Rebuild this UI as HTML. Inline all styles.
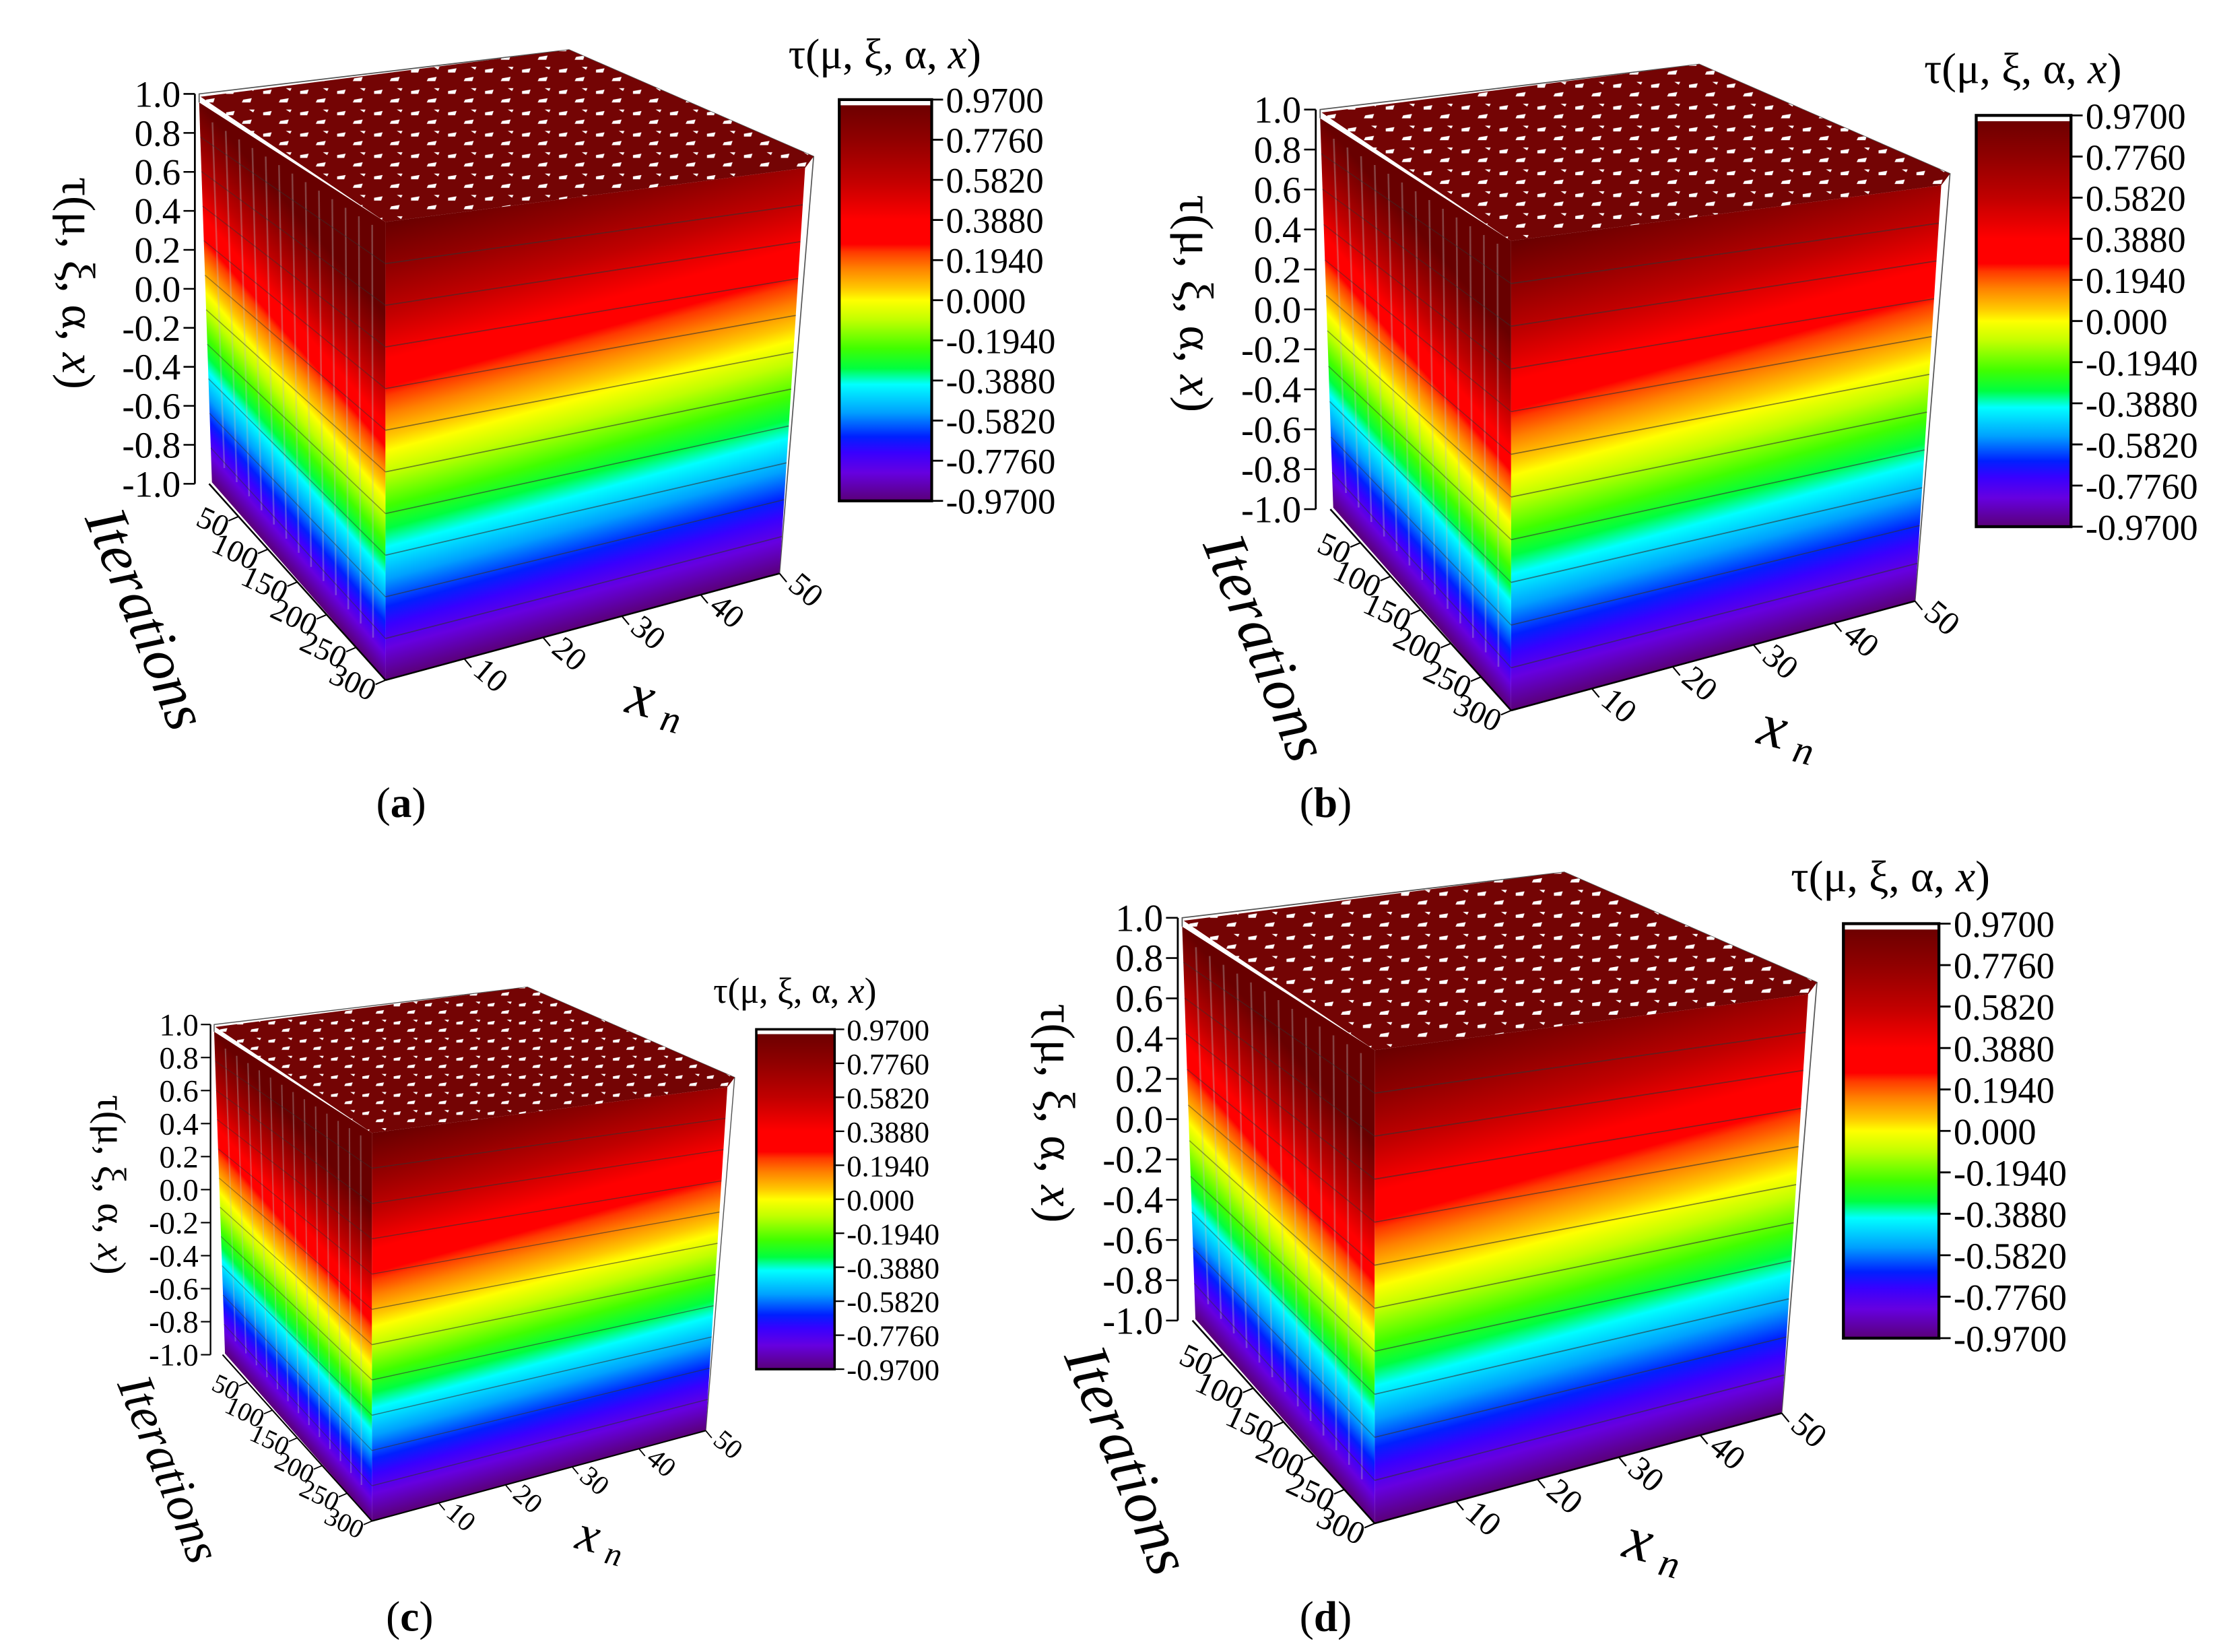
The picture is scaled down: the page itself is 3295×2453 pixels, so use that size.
<!DOCTYPE html>
<html><head><meta charset="utf-8"><style>
html,body{margin:0;padding:0;background:#fff}
svg{display:block}
text{font-family:"Liberation Serif",serif;fill:#000}
</style></head><body>
<svg id="fig" width="3295" height="2453" viewBox="0 0 1560 1161" preserveAspectRatio="none" xmlns="http://www.w3.org/2000/svg">
<defs>
<linearGradient id="cmap" x1="0" y1="0" x2="0" y2="1">
<stop offset="0" stop-color="#680000"/><stop offset="0.1" stop-color="#900000"/><stop offset="0.2" stop-color="#c00000"/>
<stop offset="0.3" stop-color="#ff0000"/><stop offset="0.36" stop-color="#ff0000"/><stop offset="0.38" stop-color="#ff3a00"/>
<stop offset="0.42" stop-color="#ff8000"/><stop offset="0.47" stop-color="#ffc800"/><stop offset="0.5" stop-color="#ffff00"/>
<stop offset="0.55" stop-color="#c0ff00"/><stop offset="0.62" stop-color="#40ff00"/><stop offset="0.67" stop-color="#00ff40"/>
<stop offset="0.71" stop-color="#00ffff"/><stop offset="0.78" stop-color="#00a0ff"/><stop offset="0.84" stop-color="#0020ff"/>
<stop offset="0.88" stop-color="#3800ff"/><stop offset="0.93" stop-color="#6600e0"/><stop offset="1" stop-color="#5a0078"/>
</linearGradient>
<pattern id="speck" width="26" height="15" patternUnits="userSpaceOnUse">
<rect width="26" height="15" fill="#740404"/>
<polygon points="3,4 9,3 8,6 3,6" fill="#fff"/>
<polygon points="15,10 21,9 20,12 14,12" fill="#fff"/>
<polygon points="19,2 23,2 22,4" fill="#fff"/>
</pattern>
</defs>
<rect width="1560" height="1161" fill="#fff"/>
<g id="panels"></g>
<text x="282" y="574" font-size="30" text-anchor="middle">(<tspan font-weight="bold">a</tspan>)</text>
<text x="932" y="574" font-size="30" text-anchor="middle">(<tspan font-weight="bold">b</tspan>)</text>
<text x="288" y="1146" font-size="30" text-anchor="middle">(<tspan font-weight="bold">c</tspan>)</text>
<text x="932" y="1146" font-size="30" text-anchor="middle">(<tspan font-weight="bold">d</tspan>)</text>
</svg>
<script>
const zTicks = [1.0,0.8,0.6,0.4,0.2,0.0,-0.2,-0.4,-0.6,-0.8,-1.0];
const iterTicks = [50,100,150,200,250,300];
const xTicks = [10,20,30,40,50];
const cbTicks = [0.97,0.776,0.582,0.388,0.194,0.0,-0.194,-0.388,-0.582,-0.776,-0.97];
const cbLabels = ["0.9700","0.7760","0.5820","0.3880","0.1940","0.000","-0.1940","-0.3880","-0.5820","-0.7760","-0.9700"];
const panelNames = ["a","b","c","d"];
const panelAnchorX = [137,925,148,828];
const panelAnchorY = [66,77,720,645];
const panelScale = [1.0,1.025,0.847,1.033];

const NS="http://www.w3.org/2000/svg";
const defs=document.querySelector('defs');
function mk(tag,attrs,parent){const e=document.createElementNS(NS,tag);for(const k in attrs)e.setAttribute(k,attrs[k]);if(parent)parent.appendChild(e);return e;}
function lerp(p,q,t){return [p[0]+(q[0]-p[0])*t,p[1]+(q[1]-p[1])*t];}
function pts(a){return a.map(p=>p[0].toFixed(1)+','+p[1].toFixed(1)).join(' ');}

const BLt=[140,72],BT=[400,35],RT=[572,110],FT=[271,156],RTf=[566,118];
const BLb=[149,339],FTb=[271,478],RTb=[548,403];
const Z0=[137,66];const Zy1=66,Zy2=340;
function zScale(v){return Zy1+(1-v)/2*(Zy2-Zy1);}
const IT0=[147,340],IT1=[271,478];
function iterPos(v){return lerp(IT0,IT1,v/300);}
const XA0=[271,478],XA1=[548,403];
function xPos(v){return lerp(XA0,XA1,v/50);}
const CBx=590,CBw=65,CBy1=70,CBy2=352;
function cbScale(v){return CBy1+(0.97-v)/1.94*(CBy2-CBy1);}

function faceGrad(id,P,Q,d){
  let n=[-d[1],d[0]];const L=Math.hypot(n[0],n[1]);n=[n[0]/L,n[1]/L];
  let dot=(Q[0]-P[0])*n[0]+(Q[1]-P[1])*n[1];
  if(dot<0){n=[-n[0],-n[1]];dot=-dot;}
  const g=mk('linearGradient',{id:id,gradientUnits:'userSpaceOnUse',x1:P[0],y1:P[1],x2:P[0]+n[0]*dot,y2:P[1]+n[1]*dot},defs);
  document.querySelectorAll('#cmap stop').forEach(s=>g.appendChild(s.cloneNode()));
}
faceGrad('gFront',FT,FTb,[RTb[0]-FTb[0],RTb[1]-FTb[1]]);
faceGrad('gLeft',BLt,BLb,[122,139]);

const root=document.getElementById('panels');
panelNames.forEach((nm,i)=>{
  const s=panelScale[i];
  const g=mk('g',{transform:`translate(${panelAnchorX[i]},${panelAnchorY[i]}) scale(${s}) translate(${-Z0[0]},${-Z0[1]})`},root);
  
  
  const surf=mk('g',{},g);
  
  
  const fr=mk('polyline',{points:pts([BLt,[140,66],BT,RT,RTb]),fill:'none',stroke:'#555','stroke-width':0.8},surf);
  
  
  const top=mk('polygon',{points:pts([[141,68],BT,RT,RTf,FT]),fill:'url(#speck)'},surf);
  
  
  const left=mk('polygon',{points:pts([BLt,FT,FTb,BLb]),fill:'url(#gLeft)'},surf);
  
  
  const front=mk('polygon',{points:pts([FT,RTf,RTb,FTb]),fill:'url(#gFront)'},surf);
  
  
  for(let k=1;k<14;k++){const t=k/14;const a=lerp(BLt,FT,t),b=lerp(BLb,FTb,t);
    const ln=mk('line',{x1:a[0],y1:a[1]+8,x2:b[0],y2:b[1]-20,stroke:'#bbb','stroke-width':1.2,opacity:0.35},surf);
    
    }
  for(let k=1;k<11;k++){const t=k/11;
    const a=lerp(FT,FTb,t),b=lerp(RTf,RTb,t);
    const c=mk('line',{x1:a[0],y1:a[1],x2:b[0],y2:b[1],stroke:'#333','stroke-width':0.8,opacity:0.6},surf);
    
    
    const p=lerp(BLt,BLb,t);
    const c2=mk('line',{x1:p[0],y1:p[1],x2:a[0],y2:a[1],stroke:'#333','stroke-width':0.7,opacity:0.45},surf);
    
    }
  const za=mk('line',{x1:Z0[0],y1:Zy1,x2:Z0[0],y2:Zy2,stroke:'#000','stroke-width':1.3},g);
  
  
  zTicks.forEach(v=>{const y=zScale(v);
    const t=mk('line',{x1:Z0[0]-8,y1:y,x2:Z0[0],y2:y,stroke:'#000','stroke-width':1.2},g);
    
    
    const tx=mk('text',{x:Z0[0]-10,y:y+9,'font-size':26,'text-anchor':'end'},g);
    tx.textContent=v.toFixed(1);
    
    });
  const yt=mk('text',{transform:'translate(44,199) rotate(90)','font-size':33,'text-anchor':'middle'},g);
  yt.innerHTML='τ(μ, ξ, α, <tspan font-style="italic">x</tspan>)';
  
  
  const ia=mk('line',{x1:IT0[0],y1:IT0[1],x2:IT1[0],y2:IT1[1],stroke:'#000','stroke-width':1.2},g);
  
  
  iterTicks.forEach(v=>{const p=iterPos(v);
    const t=mk('line',{x1:p[0],y1:p[1],x2:p[0]-7,y2:p[1]+3,stroke:'#000','stroke-width':1},g);
    
    
    const tx=mk('text',{transform:`translate(${p[0]-11},${p[1]+15}) rotate(25)`,'font-size':22,'text-anchor':'end'},g);
    tx.textContent=v;
    
    });
  const itt=mk('text',{transform:'translate(90,440) rotate(68)','font-size':42,'font-style':'italic','text-anchor':'middle'},g);
  itt.textContent='Iterations';
  
  
  const xa=mk('line',{x1:XA0[0],y1:XA0[1],x2:XA1[0],y2:XA1[1],stroke:'#000','stroke-width':1.2},g);
  
  
  xTicks.forEach(v=>{const p=xPos(v);
    const t=mk('line',{x1:p[0],y1:p[1],x2:p[0]+5,y2:p[1]+6,stroke:'#000','stroke-width':1},g);
    
    
    const tx=mk('text',{transform:`translate(${p[0]+5},${p[1]+10}) rotate(40)`,'font-size':23},g);
    tx.textContent=v;
    
    });
  const xt=mk('text',{transform:'translate(458,505) rotate(14)','font-size':42,'font-style':'italic','text-anchor':'middle'},g);
  xt.innerHTML='x<tspan font-size="27" dx="8" dy="6">n</tspan>';
  
  
  const cb=mk('rect',{x:CBx,y:CBy1,width:CBw,height:CBy2-CBy1,fill:'url(#cmap)',stroke:'#000','stroke-width':2},g);
  
  
  mk('rect',{x:CBx+1,y:CBy1+1,width:CBw-2,height:3,fill:'#fff'},g);
  cbTicks.forEach((v,j)=>{const y=cbScale(v);
    const t=mk('line',{x1:CBx+CBw,y1:y,x2:CBx+CBw+8,y2:y,stroke:'#000','stroke-width':1.3},g);
    
    
    const tx=mk('text',{x:CBx+CBw+10,y:y+9,'font-size':25},g);
    tx.textContent=cbLabels[j];
    
    });
  const ct=mk('text',{x:CBx+32,y:48,'font-size':30,'text-anchor':'middle'},g);
  ct.innerHTML='τ(μ, ξ, α, <tspan font-style="italic">x</tspan>)';
  
  
});
</script>
</body></html>
